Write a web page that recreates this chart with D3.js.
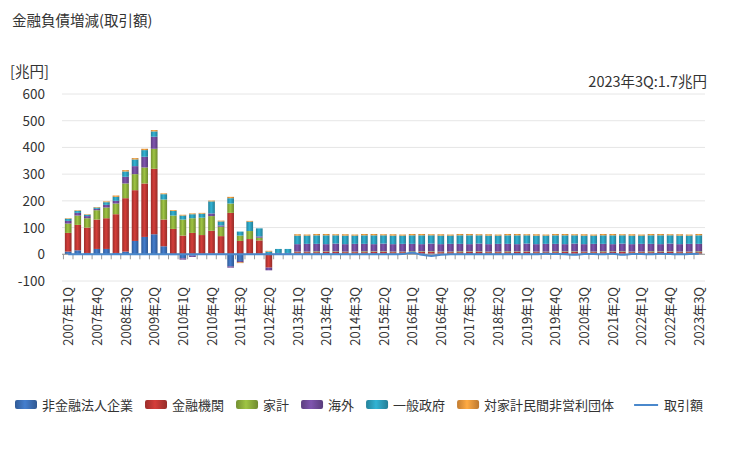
<!DOCTYPE html>
<html><head><meta charset="utf-8">
<script src="https://cdn.jsdelivr.net/npm/d3@7"></script>
<style>body{margin:0;background:#fff;font-family:"Noto Sans CJK JP","Noto Sans",sans-serif;}</style>
</head><body><div id="chart"></div>
<script>
var years = d3.range(2007, 2024);
var quarters = [];
years.forEach(function (y) { [1, 2, 3, 4].forEach(function (q) { if (y < 2023 || q <= 3) quarters.push(y + "年" + q + "Q"); }); });

var seriesNames = ["非金融法人企業", "金融機関", "家計", "海外", "一般政府", "対家計民間非営利団体"];
var colors = ["#3b6db3", "#b93632", "#8aab3a", "#6e4a98", "#2b9bb8", "#e8943a"];
var lineName = "取引額";

var tail = 43;
function rep(v, n) { var a = []; for (var i = 0; i < n; i++) a.push(v[i % v.length]); return a; }
var nonfin = [10,15,5,20,20,5,10,50,65,75,30,-3,-15,-5,2,3,3,-45,-25,2,2,0,2,2].concat(rep([3,2,3,4,3],tail));
var fin    = [70,95,95,110,115,145,200,190,200,245,100,95,70,80,70,85,65,155,50,55,50,-50,0,0].concat(rep([5,6,5,5,6],tail));
var house  = [35,35,35,35,40,40,55,60,60,75,75,50,60,55,65,55,35,35,20,30,10,0,0,0].concat(rep([2,2,3,2,2],tail));
var overseas=[10,10,8,5,10,10,25,30,40,45,0,0,-5,-5,0,10,5,-5,-5,0,5,-10,3,3].concat(rep([28,29,28,27,29],tail));
var govt   = [8,8,5,5,10,15,20,25,25,20,20,17,15,15,15,45,15,20,15,35,30,10,15,15].concat(rep([32,31,32,33,31],tail));
var npish  = [2,2,2,2,3,5,5,5,5,5,3,3,3,3,3,3,3,5,-3,3,0,3,0,0].concat(rep([5,4,5,5,4],tail));
var amount = [0,0,0,0,0,0,0,0,0,0,0,0,0,0,0,0,0,0,0,0,0,0,0,0,
  0,0,0,0,0,0,0,0,0,0,0,1,6,-2,-6,-2,0,0,0,0,0,0,0,0,0,0,2,1,0,-2,1,1,0,2,-2,1,1,0,2,1,0,1,1.7];
var yTicks = [-100, 0, 100, 200, 300, 400, 500, 600];

var W = 729, H = 450;
var margin = { top: 95, left: 62, right: 24 };
var svg = d3.select("#chart").append("svg").attr("width", W).attr("height", H);

var data = quarters.map(function (q, i) {
  return { q: q, s0: nonfin[i], s1: fin[i], s2: house[i], s3: overseas[i], s4: govt[i], s5: npish[i], amt: amount[i] };
});
var keys = ["s0", "s1", "s2", "s3", "s4", "s5"];
var stacked = d3.stack().keys(keys).offset(d3.stackOffsetDiverging)(data);

var x = d3.scaleBand().domain(quarters).range([margin.left, W - margin.right]).padding(0.3);
var y = d3.scaleLinear().domain([-100, 600]).range([281, 94]);

svg.append("g").selectAll("line").data(yTicks).enter().append("line")
  .attr("x1", margin.left).attr("x2", W - margin.right)
  .attr("y1", function (d) { return y(d); }).attr("y2", function (d) { return y(d); })
  .attr("stroke", "#e6e6e6");
svg.append("g").selectAll("text").data(yTicks).enter().append("text")
  .attr("x", 45).attr("y", function (d) { return y(d) + 5; })
  .attr("text-anchor", "end").attr("font-size", 13.5).attr("fill", "#333")
  .text(function (d) { return d; });

var defs = svg.append("defs");
colors.forEach(function (c, i) {
  var g = defs.append("linearGradient").attr("id", "g" + i);
  g.append("stop").attr("offset", "0%").attr("stop-color", d3.color(c).darker(0.5));
  g.append("stop").attr("offset", "45%").attr("stop-color", d3.color(c).brighter(0.4));
  g.append("stop").attr("offset", "100%").attr("stop-color", d3.color(c).darker(0.6));
});

svg.append("g").selectAll("g").data(stacked).enter().append("g")
  .attr("fill", function (d, i) { return "url(#g" + i + ")"; })
  .selectAll("rect").data(function (d) { return d; }).enter().append("rect")
  .attr("x", function (d) { return x(d.data.q); })
  .attr("width", x.bandwidth())
  .attr("y", function (d) { return y(Math.max(d[0], d[1])); })
  .attr("height", function (d) { return Math.abs(y(d[0]) - y(d[1])); });

// x axis at zero
svg.append("line").attr("x1", margin.left).attr("x2", W - margin.right)
  .attr("y1", y(0)).attr("y2", y(0)).attr("stroke", "#999");
svg.append("g").selectAll("line").data(quarters).enter().append("line")
  .attr("x1", function (d) { return x(d) - x.step() * x.padding() / 2; })
  .attr("x2", function (d) { return x(d) - x.step() * x.padding() / 2; })
  .attr("y1", y(0)).attr("y2", y(0) + 5).attr("stroke", "#999");

var line = d3.line().x(function (d) { return x(d.q) + x.bandwidth() / 2; }).y(function (d) { return y(d.amt); }).curve(d3.curveMonotoneX);
svg.append("path").datum(data).attr("d", line).attr("fill", "none").attr("stroke", "#4a88cc").attr("stroke-width", 2);

svg.append("g").selectAll("text").data(quarters.filter(function (d, i) { return i % 3 === 0; })).enter().append("text")
  .attr("transform", function (d) { return "translate(" + (x(d) + x.bandwidth() / 2 + 5) + ",287) rotate(-90)"; })
  .attr("text-anchor", "end").attr("font-size", 13).attr("fill", "#333")
  .text(function (d) { return d; });

svg.append("text").attr("x", 12).attr("y", 26).attr("font-size", 14.5).attr("fill", "#333").text("金融負債増減(取引額)");
svg.append("text").attr("x", 10).attr("y", 77).attr("font-size", 14.5).attr("fill", "#333").text("[兆円]");
svg.append("text").attr("x", 707).attr("y", 87).attr("text-anchor", "end").attr("font-size", 14.5).attr("fill", "#333").text("2023年3Q:1.7兆円");

// legend
var lg = svg.append("g").attr("font-size", 13).attr("fill", "#333");
var lx = 15;
seriesNames.forEach(function (n, i) {
  lg.append("rect").attr("x", lx).attr("y", 400).attr("width", 22).attr("height", 9).attr("rx", 2).attr("fill", "url(#g" + i + ")");
  var t = lg.append("text").attr("x", lx + 27).attr("y", 410).text(n);
  lx += 27 + t.node().getComputedTextLength() + 12;
});
lx += 8;
lg.append("line").attr("x1", lx).attr("x2", lx + 24).attr("y1", 405).attr("y2", 405).attr("stroke", "#4a88cc").attr("stroke-width", 2);
lg.append("text").attr("x", lx + 30).attr("y", 410).text(lineName);
</script></body></html>
